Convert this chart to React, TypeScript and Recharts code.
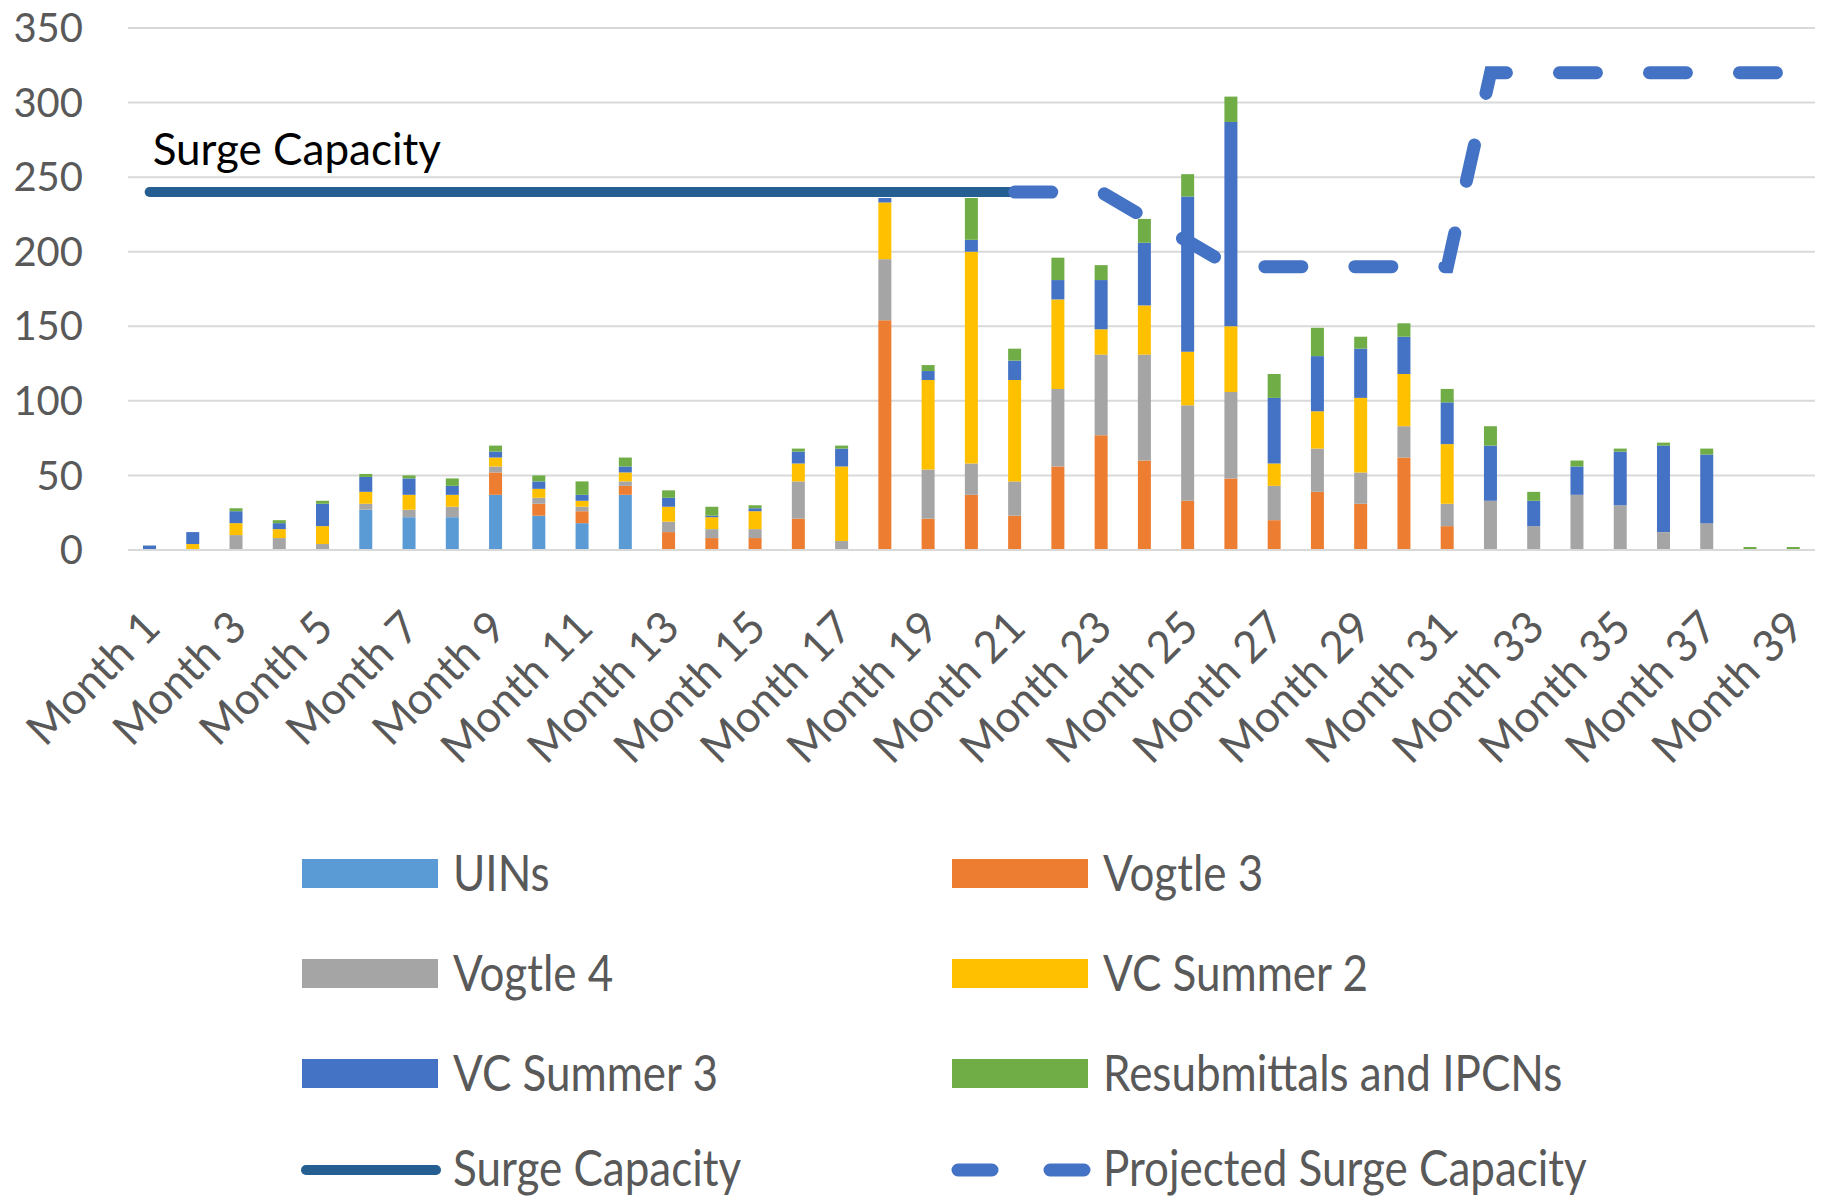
import React from "react";
import { ComposedChart, CartesianGrid, XAxis, YAxis, Bar, Line } from "recharts";

const months = [
  "Month 1", "Month 2", "Month 3", "Month 4", "Month 5", "Month 6", "Month 7", "Month 8",
  "Month 9", "Month 10", "Month 11", "Month 12", "Month 13", "Month 14", "Month 15", "Month 16",
  "Month 17", "Month 18", "Month 19", "Month 20", "Month 21", "Month 22", "Month 23", "Month 24",
  "Month 25", "Month 26", "Month 27", "Month 28", "Month 29", "Month 30", "Month 31", "Month 32",
  "Month 33", "Month 34", "Month 35", "Month 36", "Month 37", "Month 38", "Month 39",
];

const uins = [0, 0, 0, 0, 0, 27, 22, 22, 37, 23, 18, 37, 0, 0, 0, 0, 0, 0, 0, 0, 0, 0, 0, 0, 0, 0, 0, 0, 0, 0, 0, 0, 0, 0, 0, 0, 0, 0, 0];
const vogtle3 = [0, 0, 0, 0, 0, 0, 0, 0, 15, 8, 8, 6, 12, 8, 8, 21, 0, 154, 21, 37, 23, 56, 77, 60, 33, 48, 20, 39, 31, 62, 16, 0, 0, 0, 0, 0, 0, 0, 0];
const vogtle4 = [0, 0, 10, 8, 4, 4, 5, 7, 4, 4, 3, 3, 7, 6, 6, 25, 6, 41, 33, 21, 23, 52, 54, 71, 64, 58, 23, 29, 21, 21, 15, 33, 16, 37, 30, 12, 18, 0, 0];
const vcSummer2 = [0, 4, 8, 6, 12, 8, 10, 8, 6, 6, 4, 6, 10, 8, 12, 12, 50, 38, 60, 142, 68, 60, 17, 33, 36, 44, 15, 25, 50, 35, 40, 0, 0, 0, 0, 0, 0, 0, 0];
const vcSummer3 = [3, 8, 8, 4, 15, 10, 11, 6, 4, 5, 4, 4, 6, 1, 2, 8, 12, 3, 6, 8, 13, 13, 33, 42, 104, 137, 44, 37, 33, 25, 28, 37, 17, 19, 36, 58, 46, 0, 0];
const resubmittals = [0, 0, 2, 2, 2, 2, 2, 5, 4, 4, 9, 6, 5, 6, 2, 2, 2, 0, 4, 28, 8, 15, 10, 16, 15, 17, 16, 19, 8, 9, 9, 13, 6, 4, 2, 2, 4, 2, 2];

const surgeCapacity = [
  240, 240, 240, 240, 240, 240, 240, 240, 240, 240, 240, 240, 240, 240, 240, 240, 240, 240, 240, 240, 240,
  null, null, null, null, null, null, null, null, null, null, null, null, null, null, null, null, null, null,
];
const projectedCapacity = [
  null, null, null, null, null, null, null, null, null, null, null, null, null, null, null, null, null, null, null, null,
  240, 240, 240, 223, 207, 190, 190, 190, 190, 190, 190, 320, 320, 320, 320, 320, 320, 320, 320,
];

const yTicks = [0, 50, 100, 150, 200, 250, 300, 350];

const series = [
  { key: "uins", name: "UINs", color: "#5B9BD5", values: uins },
  { key: "vogtle3", name: "Vogtle 3", color: "#ED7D31", values: vogtle3 },
  { key: "vogtle4", name: "Vogtle 4", color: "#A5A5A5", values: vogtle4 },
  { key: "vcSummer2", name: "VC Summer 2", color: "#FFC000", values: vcSummer2 },
  { key: "vcSummer3", name: "VC Summer 3", color: "#4472C4", values: vcSummer3 },
  { key: "resubmittals", name: "Resubmittals and IPCNs", color: "#70AD47", values: resubmittals },
];

const data = months.map((month, i) => {
  const row: any = { month, surge: surgeCapacity[i], projected: projectedCapacity[i] };
  series.forEach((s) => {
    row[s.key] = s.values[i];
  });
  return row;
});

const FONT = "Lato, 'Open Sans', sans-serif";
const TEXT_GRAY = "#595959";

const MonthTick = (props: any) => {
  const { x, y, payload } = props;
  return (
    <g transform={`translate(${x + 13},${y + 80})`}>
      <text
        x={0}
        y={0}
        textAnchor="end"
        transform="rotate(-45)"
        fontFamily={FONT}
        fontSize={44}
        fill={TEXT_GRAY}
      >
        {payload.value}
      </text>
    </g>
  );
};

const surgeLabel = (props: any) => {
  if (props.index !== 0) return null;
  return (
    <text x={props.x + 3} y={props.y - 27} fontFamily={FONT} fontSize={44} fill="#000">
      Surge Capacity
    </text>
  );
};

// legend drawn as its own svg below the plot
const LegendBlock = () => {
  const rows = [873, 973, 1073, 1168];
  const cols = [302, 952];
  const items = [
    ...series.map((s) => ({ name: s.name, color: s.color, kind: "box" })),
    { name: "Surge Capacity", color: "#255E91", kind: "line" },
    { name: "Projected Surge Capacity", color: "#4472C4", kind: "dash" },
  ];
  return (
    <svg width={1826} height={1200} style={{ position: "absolute", left: 0, top: 0, pointerEvents: "none" }}>
      {items.map((it, i) => {
        const cx = cols[i % 2];
        const cy = rows[Math.floor(i / 2)];
        return (
          <g key={it.name}>
            {it.kind === "box" && <rect x={cx} y={cy - 14} width={136} height={29} fill={it.color} />}
            {it.kind === "line" && (
              <line x1={cx + 4} x2={cx + 134} y1={cy + 2} y2={cy + 2} stroke={it.color} strokeWidth={10} strokeLinecap="round" />
            )}
            {it.kind === "dash" && (
              <line
                x1={cx + 6}
                x2={cx + 132}
                y1={cy + 2}
                y2={cy + 2}
                stroke={it.color}
                strokeWidth={13}
                strokeLinecap="round"
                strokeDasharray="34 58"
              />
            )}
            <g transform={`translate(${cx + 151},${cy + 18}) scale(0.88,1)`}>
              <text x={0} y={0} fontFamily={FONT} fontSize={50} fill={TEXT_GRAY}>
                {it.name}
              </text>
            </g>
          </g>
        );
      })}
    </svg>
  );
};

const App = () => {
  return (
    <div style={{ position: "absolute", left: 0, top: 0, width: 1826, height: 1200, background: "#fff" }}>
      <ComposedChart
        width={1826}
        height={1200}
        data={data}
        margin={{ top: 28, right: 11, left: 0, bottom: 450 }}
        barCategoryGap={0}
      >
        <CartesianGrid vertical={false} stroke="#D9D9D9" strokeWidth={2} />
        <XAxis
          dataKey="month"
          interval={1}
          height={200}
          tickLine={false}
          tickSize={0}
          tickMargin={0}
          axisLine={{ stroke: "#D9D9D9", strokeWidth: 2 }}
          tick={<MonthTick />}
        />
        <YAxis
          width={128}
          domain={[0, 350]}
          ticks={yTicks}
          axisLine={false}
          tickLine={false}
          tickSize={0}
          tickMargin={45}
          tick={{ fontFamily: FONT, fontSize: 40, fill: TEXT_GRAY }}
        />
        {series.map((s) => (
          <Bar
            key={s.key}
            dataKey={s.key}
            name={s.name}
            stackId="a"
            fill={s.color}
            barSize={13}
            isAnimationActive={false}
          />
        ))}
        <Line
          type="linear"
          dataKey="surge"
          name="Surge Capacity"
          stroke="#255E91"
          strokeWidth={10}
          strokeLinecap="round"
          dot={false}
          activeDot={false}
          isAnimationActive={false}
          label={surgeLabel}
        />
        <Line
          type="linear"
          dataKey="projected"
          name="Projected Surge Capacity"
          stroke="#4472C4"
          strokeWidth={13}
          strokeLinecap="round"
          strokeDasharray="37 53"
          dot={false}
          activeDot={false}
          isAnimationActive={false}
        />
      </ComposedChart>
      <LegendBlock />
    </div>
  );
};

export default App;
